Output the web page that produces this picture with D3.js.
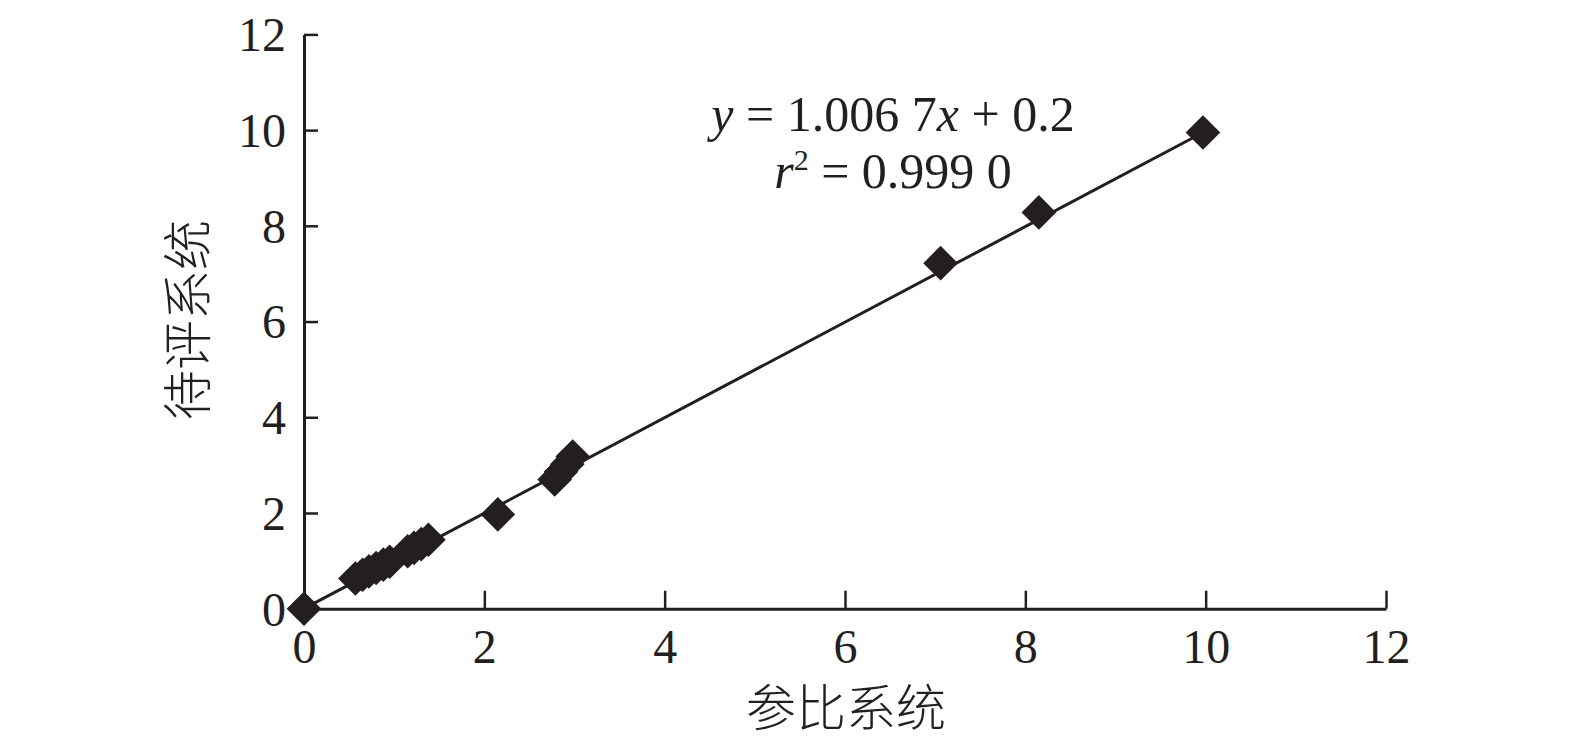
<!DOCTYPE html>
<html>
<head>
<meta charset="utf-8">
<script src="https://cdn.jsdelivr.net/npm/d3@7"></script>
<style>
  html, body { margin: 0; padding: 0; background: #fff; }
  svg { display: block; }
</style>
</head>
<body>
<svg id="chart" width="1575" height="746"></svg>
<script>
// data
const refValues = [0, 0.57, 0.65, 0.72, 0.80, 0.88, 0.95, 1.15, 1.22, 1.30, 1.38, 2.15, 2.78, 2.85, 2.92, 2.98, 7.06, 8.15, 9.97];
const testValues = [0, 0.63, 0.71, 0.78, 0.85, 0.92, 0.98, 1.20, 1.27, 1.35, 1.44, 1.97, 2.70, 2.86, 3.02, 3.18, 7.22, 8.28, 9.95];
const fitX = [0, 9.97];
const fitY = [0, 9.95];
const xTicks = [0, 2, 4, 6, 8, 10, 12];
const yTicks = [0, 2, 4, 6, 8, 10, 12];
const xTitle = '参比系统';
const yTitle = '待评系统';

const ink = '#231f20';
const serif = '"Times New Roman", "Liberation Serif", "DejaVu Serif", serif';
const svg = d3.select('#chart');

const x = d3.scaleLinear().domain([0, 12]).range([304, 1386]);
const y = d3.scaleLinear().domain([0, 12]).range([608.7, 34.4]);

// axes
const xAxis = d3.axisBottom(x).tickValues(xTicks).tickSizeInner(-18).tickSizeOuter(0).tickFormat(d3.format('d')).tickPadding(20);
const yAxis = d3.axisLeft(y).tickValues(yTicks).tickSizeInner(-14).tickSizeOuter(0).tickFormat(d3.format('d')).tickPadding(18);

const gx = svg.append('g').attr('transform', `translate(0,${y(0)})`).call(xAxis);
const gy = svg.append('g').attr('transform', `translate(${x(0)},0)`).call(yAxis);

[gx, gy].forEach(g => {
    g.attr('font-family', null);
    g.select('.domain').attr('stroke', ink).attr('stroke-width', 3);
    g.selectAll('.tick line').attr('stroke', ink).attr('stroke-width', 2.5);
    g.selectAll('.tick text')
        .attr('fill', ink)
        .style('font-family', serif)
        .style('font-size', '48px');
});
gx.selectAll('.tick text').attr('dy', '0.71em');
gy.selectAll('.tick text').attr('dy', '0.34em');

// fit line
svg.append('path')
    .datum(d3.zip(fitX, fitY))
    .attr('fill', 'none')
    .attr('stroke', ink)
    .attr('stroke-width', 3)
    .attr('d', d3.line().x(d => x(d[0])).y(d => y(d[1])));

// diamonds
const diamond = d3.symbol().type(d3.symbolSquare).size(600);
svg.append('g').selectAll('path')
    .data(d3.zip(refValues, testValues))
    .join('path')
    .attr('d', diamond)
    .attr('transform', d => `translate(${x(d[0])},${y(d[1])}) rotate(45)`)
    .attr('fill', ink);

// equation
const eq = svg.append('text')
    .attr('x', 893).attr('y', 131)
    .attr('text-anchor', 'middle')
    .attr('fill', ink)
    .style('font-family', serif)
    .style('font-size', '50px');
eq.append('tspan').style('font-style', 'italic').text('y');
eq.append('tspan').text(' = 1.006 7');
eq.append('tspan').style('font-style', 'italic').text('x');
eq.append('tspan').text(' + 0.2');

const r2 = svg.append('text')
    .attr('x', 893).attr('y', 188)
    .attr('text-anchor', 'middle')
    .attr('fill', ink)
    .style('font-family', serif)
    .style('font-size', '50px');
r2.append('tspan').style('font-style', 'italic').text('r');
r2.append('tspan').attr('dy', -18).style('font-size', '30px').text('2');
r2.append('tspan').attr('dy', 18).text(' = 0.999 0');

// axis titles
svg.append('text')
    .attr('x', 846).attr('y', 708)
    .attr('dy', '0.36em')
    .attr('text-anchor', 'middle')
    .attr('fill', ink)
    .style('font-family', '"Noto Sans CJK SC", sans-serif')
    .style('font-weight', 300)
    .style('font-size', '50px')
    .text(xTitle);

svg.append('text')
    .attr('transform', `translate(188,320) rotate(-90)`)
    .attr('dy', '0.36em')
    .attr('text-anchor', 'middle')
    .attr('fill', ink)
    .style('font-family', '"Noto Sans CJK SC", sans-serif')
    .style('font-weight', 300)
    .style('font-size', '50px')
    .text(yTitle);
</script>
</body>
</html>
